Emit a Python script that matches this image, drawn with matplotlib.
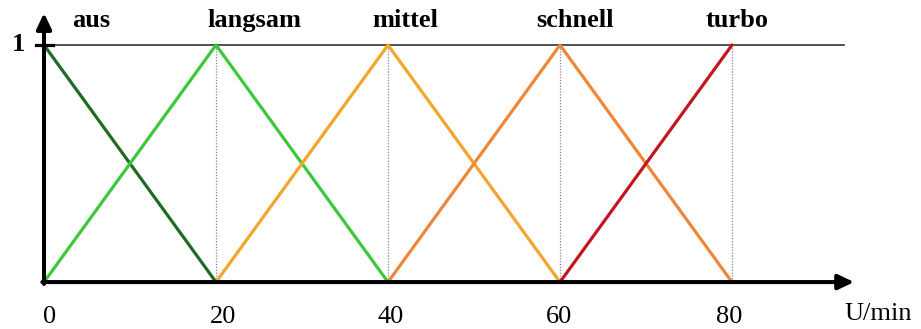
import matplotlib
matplotlib.use("Agg")
import matplotlib.pyplot as plt

# Membership functions for fan speed (U/min)
names = ["aus", "langsam", "mittel", "schnell", "turbo"]
centers = [0, 20, 40, 60, 80]
colors = ["#1e6b22", "#3cc83c", "#f2a62c", "#ee8738", "#c2161e"]
label_x = [5.5, 24.5, 42.0, 61.7, 80.6]
tick_values = [0.6, 20.8, 40.3, 59.9, 79.7]
tick_labels = ["0", "20", "40", "60", "80"]
half_width = 20

fig = plt.figure(figsize=(9.21, 3.29), dpi=100)
ax = fig.add_axes([0, 0, 1, 1])
ax.set_xlim(-5.12, 101.98)
ax.set_ylim(-0.198, 1.19)
ax.axis("off")

serif = "Liberation Serif"

# top reference line at membership 1
ax.plot([0, 93.0], [1, 1], color="#333333", lw=1.2, zorder=1)

# dotted guides under each peak
for c in centers[1:]:
    ax.plot([c, c], [0, 1], color="#888888", lw=0.9, ls=(0, (1, 1.3)), zorder=1)

# triangles
for i, (c, col) in enumerate(zip(centers, colors)):
    xs, ys = [], []
    if i > 0:
        xs += [c - half_width]
        ys += [0]
    xs += [c]
    ys += [1]
    if i < len(centers) - 1:
        xs += [c + half_width]
        ys += [0]
    ax.plot(xs, ys, color=col, lw=2.3, solid_capstyle="round", zorder=3)

# axes with arrows
arrow = dict(arrowstyle="-|>,head_length=0.95,head_width=0.45",
             color="black", lw=2.9, shrinkA=0, shrinkB=0)
ax.annotate("", xy=(94.2, 0), xytext=(-0.2, 0), arrowprops=arrow, zorder=4)
ax.annotate("", xy=(0, 1.135), xytext=(0, -0.008), arrowprops=arrow, zorder=4)
ax.plot([-0.95, 1.05], [1, 1], color="black", lw=2.3, zorder=4)

# labels
for name, lx in zip(names, label_x):
    ax.text(lx, 1.076, name, ha="center", va="baseline", fontsize=19,
            fontweight="bold", family=serif, color="black")
for v, t in zip(tick_values, tick_labels):
    ax.text(v, -0.173, t, ha="center", va="baseline", fontsize=19,
            family=serif, color="black")
ax.text(-3.0, 0.975, "1", ha="center", va="baseline", fontsize=19,
        fontweight="bold", family=serif, color="black")
ax.text(97.0, -0.16, "U/min", ha="center", va="baseline", fontsize=19,
        family=serif, color="black")

fig.savefig("out.png", dpi=100)
